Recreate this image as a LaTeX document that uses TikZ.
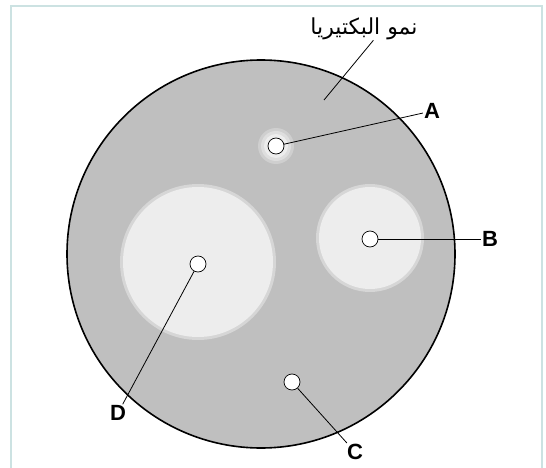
\documentclass[tikz,border=0pt]{standalone}
\usepackage{fontspec}
\setmainfont{Liberation Sans}
\newfontfamily\arabicfont[Script=Arabic]{DejaVu Sans}
\TeXXeTstate=1
\usetikzlibrary{positioning}
\definecolor{plateFill}{HTML}{BFBFBF}
\definecolor{zoneFill}{HTML}{EDEDED}
\definecolor{frameLine}{HTML}{CCE2E2}
\def\plateR{194pt}
\def\zoneAR{16pt}
\def\zoneBR{52pt}
\def\zoneDR{76pt}
\def\spotD{16pt}

\begin{document}
\begin{tikzpicture}[x=1pt, y=-1pt,
                    spot/.style={circle, draw=black, fill=white, line width=0.7pt,
                                 minimum size=\spotD, inner sep=0pt},
                    tag/.style={font=\bfseries\fontsize{22}{22}\selectfont, inner sep=1pt},
                    lead/.style={black, line width=0.8pt}]

    % ==========================================================
    % 1. PAGE AND FRAME
    % ==========================================================
    \useasboundingbox (0,0) rectangle (546,468);
    \fill[white] (0,0) rectangle (546,468);
    \draw[frameLine, line width=1.5pt] (11,475) -- (11,6) -- (542,6) -- (542,475);

    % ==========================================================
    % 2. NAMED COORDINATES
    % ==========================================================
    \coordinate (plateC) at (261,254);
    \coordinate (zoneA)  at (276,146);
    \coordinate (zoneB)  at (370,238);
    \coordinate (zoneD)  at (198,262);
    \coordinate (growthEnd) at (324,100);

    % ==========================================================
    % 3. PLATE (bacterial lawn)
    % ==========================================================
    \filldraw[fill=plateFill, draw=black, line width=1.6pt]
        (plateC) circle[radius=\plateR];

    % ==========================================================
    % 4. CLEAR ZONES (soft edge from faint outer rings)
    % ==========================================================
    \fill[zoneFill, opacity=0.35] (zoneA) circle[radius=\zoneAR+2pt];
    \fill[zoneFill, opacity=0.5] (zoneA) circle[radius=\zoneAR-1pt];
    \fill[zoneFill] (zoneA) circle[radius=\zoneAR-4pt];
    \fill[zoneFill, opacity=0.5] (zoneB) circle[radius=\zoneBR+2pt];
    \fill[zoneFill] (zoneB) circle[radius=\zoneBR-1pt];
    \fill[zoneFill, opacity=0.5] (zoneD) circle[radius=\zoneDR+2pt];
    \fill[zoneFill] (zoneD) circle[radius=\zoneDR-1pt];

    % ==========================================================
    % 5. DISCS
    % ==========================================================
    \node[spot] (spotA) at (zoneA) {};
    \node[spot] (spotB) at (370,239) {};
    \node[spot] (spotC) at (292,382) {};
    \node[spot] (spotD) at (198,264) {};

    % ==========================================================
    % 6. LABELS AND LEADER LINES
    % ==========================================================
    \node[tag] (labA) at (432,111) {A};
    \node[tag] (labB) at (490,239) {B};
    \node[tag] (labC) at (355,452) {C};
    \node[tag] (labD) at (118,413) {D};
    \node[font=\fontsize{22}{22}\selectfont, inner sep=0pt] (labGrowth) at (364,29)
        {\arabicfont\beginR نمو البكتيريا\endR};

    \draw[lead] (spotA) -- (labA);
    \draw[lead] (spotB) -- (labB);
    \draw[lead] (spotC) -- (labC);
    \draw[lead] (spotD) -- (labD);
    \draw[lead] (labGrowth.-50) -- (growthEnd);

\end{tikzpicture}
\end{document}
